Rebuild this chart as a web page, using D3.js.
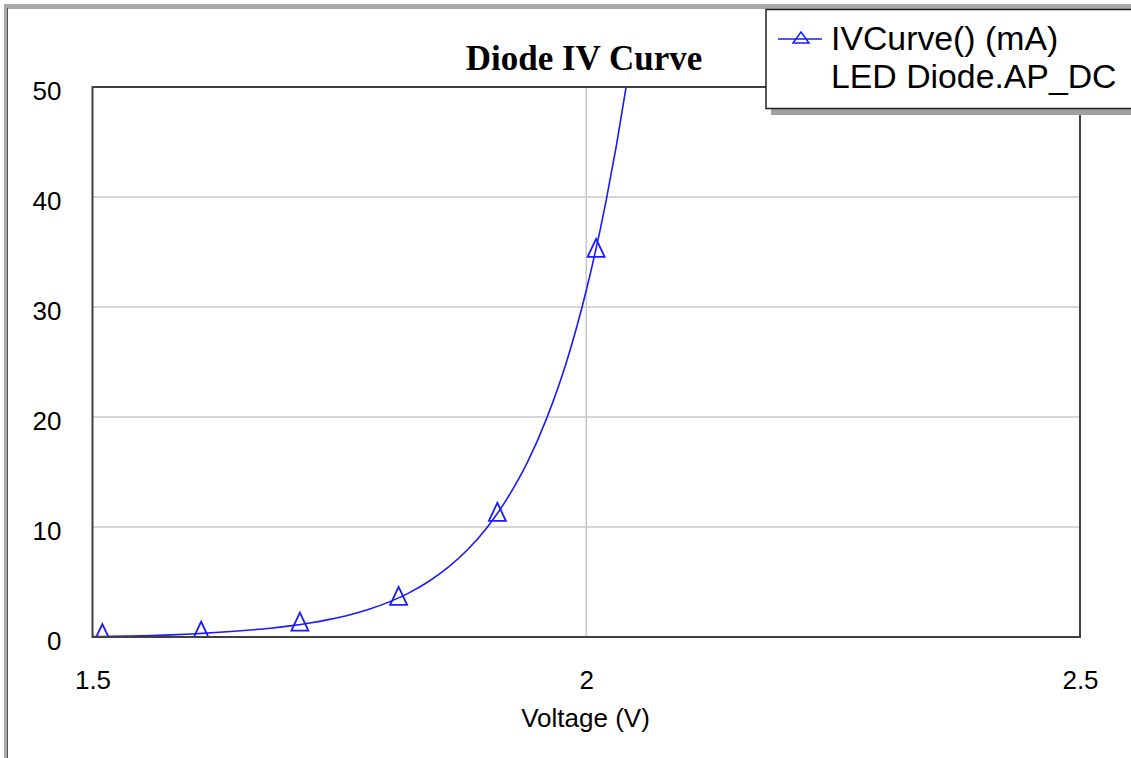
<!DOCTYPE html>
<html>
<head>
<meta charset="utf-8">
<script src="https://cdn.jsdelivr.net/npm/d3@7"></script>
<style>
  html, body { margin: 0; padding: 0; background: #fff; }
  svg { display: block; }
</style>
</head>
<body>
<svg id="chart" width="1131" height="758"></svg>
<script>
// ---- data ----
const curveVoltage = [1.50, 1.52, 1.54, 1.56, 1.58, 1.60, 1.62, 1.64, 1.66, 1.68, 1.70, 1.72, 1.74, 1.76, 1.78, 1.80, 1.82, 1.84, 1.86, 1.88, 1.90, 1.92, 1.94, 1.96, 1.98, 2.00, 2.02, 2.04, 2.06];
const curveCurrent = [0.04, 0.06, 0.09, 0.13, 0.19, 0.27, 0.38, 0.50, 0.64, 0.80, 1.01, 1.27, 1.60, 2.00, 2.52, 3.17, 3.99, 5.02, 6.32, 7.95, 10.0, 12.6, 15.8, 19.9, 25.0, 31.5, 39.6, 49.8, 62.7];
const markerVoltage = [1.51, 1.61, 1.71, 1.81, 1.91, 2.01];
const markerCurrent = [0.18, 0.39, 1.21, 3.55, 11.2, 35.2];
const xTicks = [1.5, 2, 2.5];
const xTickLabels = ["1.5", "2", "2.5"];
const yTicks = [0, 10, 20, 30, 40, 50];
const titleText = "Diode IV Curve";
const xAxisTitle = "Voltage (V)";
const legendLines = ["IVCurve() (mA)", "LED Diode.AP_DC"];

// ---- layout ----
const svg = d3.select("#chart");
const plot = { left: 92.5, right: 1080, top: 87, bottom: 637 };
const x = d3.scaleLinear().domain([1.5, 2.5]).range([plot.left, plot.right]);
const y = d3.scaleLinear().domain([0, 50]).range([plot.bottom, plot.top]);
const blue = "#1a1aff";
const sans = "Arial, 'Liberation Sans', sans-serif";

// outer window frame
svg.append("rect").attr("x", 5.5).attr("y", 5.5).attr("width", 1140).attr("height", 770)
  .attr("fill", "none").attr("stroke", "#a8a8a8").attr("stroke-width", 3);
svg.append("rect").attr("x", 7.5).attr("y", 8).attr("width", 1140).attr("height", 770)
  .attr("fill", "none").attr("stroke", "#505050").attr("stroke-width", 1);

// title
svg.append("text").attr("x", 584).attr("y", 70).attr("text-anchor", "middle")
  .attr("font-family", "'Times New Roman', 'Liberation Serif', serif")
  .attr("font-weight", "bold").attr("font-size", 35).attr("fill", "#000").text(titleText);

// gridlines
const grid = svg.append("g");
grid.selectAll("line.gy").data(yTicks.filter(d => d > 0 && d < 50)).join("line")
  .attr("x1", plot.left).attr("x2", plot.right)
  .attr("y1", d => y(d)).attr("y2", d => y(d))
  .attr("stroke", "#c8c8c8").attr("stroke-width", 1.5);
grid.selectAll("line.gx").data(xTicks.filter(d => d > 1.5 && d < 2.5)).join("line")
  .attr("y1", plot.top).attr("y2", plot.bottom)
  .attr("x1", d => x(d)).attr("x2", d => x(d))
  .attr("stroke", "#c8c8c8").attr("stroke-width", 1.5);

// axes via d3 axis generators (labels only; frame drawn as box)
const yAxis = d3.axisLeft(y).tickValues(yTicks).tickSize(0).tickPadding(31).tickFormat(d3.format("d"));
const gy = svg.append("g").attr("transform", `translate(${plot.left},0)`).call(yAxis);
gy.select(".domain").remove();
gy.selectAll("text").attr("font-family", sans).attr("font-size", 26).attr("fill", "#000")
  .attr("dy", null).attr("dominant-baseline", null)
  .attr("transform", "translate(0,12)");

const xAxis = d3.axisBottom(x).tickValues(xTicks).tickSize(0).tickPadding(0)
  .tickFormat((d, i) => xTickLabels[i]);
const gx = svg.append("g").attr("transform", `translate(0,${plot.bottom})`).call(xAxis);
gx.select(".domain").remove();
gx.selectAll("text").attr("font-family", sans).attr("font-size", 26).attr("fill", "#000")
  .attr("dy", null).attr("y", 52);

svg.append("text").attr("x", 585.5).attr("y", 727).attr("text-anchor", "middle")
  .attr("font-family", sans).attr("font-size", 26).attr("fill", "#000").text(xAxisTitle);

// clip
svg.append("clipPath").attr("id", "clip").append("rect")
  .attr("x", plot.left).attr("y", plot.top)
  .attr("width", plot.right - plot.left).attr("height", plot.bottom - plot.top - 1);

const curve = curveVoltage.map((v, i) => [v, curveCurrent[i]]);
const line = d3.line().x(d => x(d[0])).y(d => y(d[1])).curve(d3.curveMonotoneX);
svg.append("path").attr("clip-path", "url(#clip)").datum(curve)
  .attr("d", line).attr("fill", "none").attr("stroke", blue).attr("stroke-width", 1.6);

// markers
const tri = "M0,-11L8.5,7L-8.5,7Z";
svg.append("g").attr("clip-path", "url(#clip)")
  .selectAll("path").data(markerVoltage.map((v, i) => [v, markerCurrent[i]])).join("path")
  .attr("transform", d => `translate(${x(d[0])},${y(d[1])})`)
  .attr("d", tri).attr("fill", "none").attr("stroke", blue).attr("stroke-width", 1.8);

// plot frame
svg.append("rect").attr("x", plot.left).attr("y", plot.top)
  .attr("width", plot.right - plot.left).attr("height", plot.bottom - plot.top)
  .attr("fill", "none").attr("stroke", "#404040").attr("stroke-width", 2);

// legend
const lg = svg.append("g");
lg.append("rect").attr("x", 771).attr("y", 16).attr("width", 420).attr("height", 99).attr("fill", "#a0a0a0");
lg.append("rect").attr("x", 766).attr("y", 9.5).attr("width", 420).attr("height", 99)
  .attr("fill", "#fff").attr("stroke", "#202020").attr("stroke-width", 1.5);
lg.append("line").attr("x1", 778).attr("x2", 822).attr("y1", 39).attr("y2", 39)
  .attr("stroke", blue).attr("stroke-width", 1.5);
lg.append("path").attr("d", "M801,32L809,43L793,43Z").attr("fill", "none")
  .attr("stroke", blue).attr("stroke-width", 1.5);
lg.selectAll("text").data(legendLines).join("text")
  .attr("x", 831).attr("y", (d, i) => 50 + i * 38)
  .attr("font-family", sans).attr("font-size", 33.8).attr("fill", "#000").text(d => d);
</script>
</body>
</html>
